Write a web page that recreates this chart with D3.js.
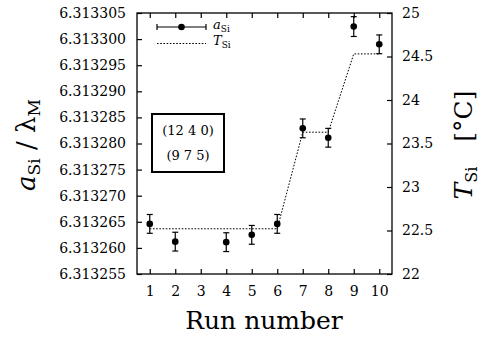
<!DOCTYPE html>
<html>
<head>
<meta charset="utf-8">
<script src="https://cdn.jsdelivr.net/npm/d3@7"></script>
<style>
  body { margin: 0; background: #fff; }
  text { font-family: "DejaVu Serif", serif; fill: #000; }
</style>
</head>
<body>
<svg id="chart" width="482" height="338"></svg>
<script>
// measured lattice parameter per run (run 3 has no point)
let runs = [1, 2, 4, 5, 6, 7, 8, 9, 10];
let aSi = [6.3132646, 6.3132612, 6.3132611, 6.3132625, 6.3132646, 6.3132829, 6.3132811, 6.3133024, 6.3132990];
let aErr = [0.0000018, 0.0000018, 0.0000018, 0.0000018, 0.0000018, 0.0000018, 0.0000018, 0.0000019, 0.0000018];

// silicon temperature per run
let tRuns = [1, 2, 3, 4, 5, 6, 7, 8, 9, 10];
let tSi = [22.52, 22.52, 22.52, 22.52, 22.52, 22.52, 23.63, 23.63, 24.53, 24.53];

let xTicks = [1, 2, 3, 4, 5, 6, 7, 8, 9, 10];
let aTicks = [6.313255, 6.313260, 6.313265, 6.313270, 6.313275, 6.313280, 6.313285, 6.313290, 6.313295, 6.313300, 6.313305];
let tTicks = [22, 22.5, 23, 23.5, 24, 24.5, 25];

let plotL = 137, plotR = 392, plotT = 13, plotB = 274;

let svg = d3.select('#chart');

let x = d3.scaleLinear().domain([0.5, 10.5]).range([plotL, plotR]);
let yA = d3.scaleLinear().domain([6.313255, 6.313305]).range([plotB, plotT]);
let yT = d3.scaleLinear().domain([22, 25]).range([plotB, plotT]);

function styleAxis(g) {
    g.select('.domain').remove();
    g.selectAll('.tick line').attr('stroke', '#000').attr('stroke-width', 1.2);
    g.selectAll('.tick text').attr('font-size', 14).attr('font-family', '"DejaVu Serif", serif');
}

svg.append('g')
    .attr('transform', 'translate(0,' + plotB + ')')
    .call(d3.axisBottom(x).tickValues(xTicks).tickSize(-5).tickPadding(12).tickFormat(d3.format('d')))
    .call(styleAxis);

svg.append('g')
    .attr('transform', 'translate(0,' + plotT + ')')
    .call(d3.axisTop(x).tickValues(xTicks).tickSize(-5).tickFormat(''))
    .call(styleAxis);

svg.append('g')
    .attr('transform', 'translate(' + plotL + ',0)')
    .call(d3.axisLeft(yA).tickValues(aTicks).tickSize(-5).tickPadding(11).tickFormat(d3.format('.6f')))
    .call(styleAxis);

svg.append('g')
    .attr('transform', 'translate(' + plotR + ',0)')
    .call(d3.axisRight(yT).tickValues(tTicks).tickSize(-5).tickPadding(10).tickFormat(d => d % 1 === 0 ? d : d.toFixed(1)))
    .call(styleAxis);

svg.append('rect')
    .attr('x', plotL).attr('y', plotT)
    .attr('width', plotR - plotL).attr('height', plotB - plotT)
    .attr('fill', 'none').attr('stroke', '#000').attr('stroke-width', 1.3);

// temperature (dotted)
let tLine = d3.line()
    .x((d, i) => x(tRuns[i]))
    .y(d => yT(d));
svg.append('path')
    .datum(tSi)
    .attr('d', tLine)
    .attr('fill', 'none')
    .attr('stroke', '#000')
    .attr('stroke-width', 1)
    .attr('stroke-dasharray', '1.6,1.6');

// error bars
let pts = svg.append('g').selectAll('g.pt')
    .data(runs)
    .enter()
    .append('g')
    .attr('class', 'pt');
pts.append('line')
    .attr('x1', d => x(d)).attr('x2', d => x(d))
    .attr('y1', (d, i) => yA(aSi[i] - aErr[i]))
    .attr('y2', (d, i) => yA(aSi[i] + aErr[i]))
    .attr('stroke', '#000').attr('stroke-width', 1.2);
pts.append('line')
    .attr('x1', d => x(d) - 3).attr('x2', d => x(d) + 3)
    .attr('y1', (d, i) => yA(aSi[i] - aErr[i]))
    .attr('y2', (d, i) => yA(aSi[i] - aErr[i]))
    .attr('stroke', '#000').attr('stroke-width', 1.2);
pts.append('line')
    .attr('x1', d => x(d) - 3).attr('x2', d => x(d) + 3)
    .attr('y1', (d, i) => yA(aSi[i] + aErr[i]))
    .attr('y2', (d, i) => yA(aSi[i] + aErr[i]))
    .attr('stroke', '#000').attr('stroke-width', 1.2);
pts.append('circle')
    .attr('cx', d => x(d))
    .attr('cy', (d, i) => yA(aSi[i]))
    .attr('r', 3.3)
    .attr('fill', '#000');

// legend
let lg = svg.append('g');
lg.append('line').attr('x1', 157).attr('x2', 206).attr('y1', 27).attr('y2', 27)
    .attr('stroke', '#000').attr('stroke-width', 1.2);
lg.append('line').attr('x1', 157).attr('x2', 157).attr('y1', 24).attr('y2', 30)
    .attr('stroke', '#000').attr('stroke-width', 1.2);
lg.append('line').attr('x1', 206).attr('x2', 206).attr('y1', 24).attr('y2', 30)
    .attr('stroke', '#000').attr('stroke-width', 1.2);
lg.append('circle').attr('cx', 181.5).attr('cy', 27).attr('r', 3.3).attr('fill', '#000');
lg.append('line').attr('x1', 157).attr('x2', 206).attr('y1', 43.5).attr('y2', 43.5)
    .attr('stroke', '#000').attr('stroke-width', 1).attr('stroke-dasharray', '1.6,1.6');

let t1 = lg.append('text').attr('x', 213).attr('y', 29).attr('font-size', 13);
t1.append('tspan').attr('font-style', 'italic').text('a');
t1.append('tspan').attr('font-size', 9).attr('dy', 2.5).text('Si');
let t2 = lg.append('text').attr('x', 213).attr('y', 45).attr('font-size', 13);
t2.append('tspan').attr('font-style', 'italic').text('T');
t2.append('tspan').attr('font-size', 9).attr('dy', 2.5).text('Si');

// reflection box
svg.append('rect')
    .attr('x', 152).attr('y', 114)
    .attr('width', 72).attr('height', 58)
    .attr('fill', '#fff').attr('stroke', '#000').attr('stroke-width', 2);
svg.append('text').attr('x', 188).attr('y', 135).attr('text-anchor', 'middle')
    .attr('font-size', 13).text('(12 4 0)');
svg.append('text').attr('x', 188).attr('y', 160).attr('text-anchor', 'middle')
    .attr('font-size', 13).text('(9 7 5)');

// axis titles
svg.append('text')
    .attr('x', 264).attr('y', 329)
    .attr('text-anchor', 'middle')
    .attr('font-size', 25)
    .text('Run number');

let yl = svg.append('text')
    .attr('transform', 'translate(35,145) rotate(-90)')
    .attr('text-anchor', 'middle')
    .attr('font-size', 26);
yl.append('tspan').attr('font-style', 'italic').text('a');
yl.append('tspan').attr('font-size', 17).attr('dy', 5).text('Si');
yl.append('tspan').attr('dy', -5).text(' / λ');
yl.append('tspan').attr('font-size', 17).attr('dy', 5).text('M');

let yr = svg.append('text')
    .attr('transform', 'translate(472,145) rotate(-90)')
    .attr('text-anchor', 'middle')
    .attr('font-size', 25);
yr.append('tspan').attr('font-style', 'italic').text('T');
yr.append('tspan').attr('font-size', 16).attr('dy', 5).text('Si');
yr.append('tspan').attr('dy', -5).text('\u2003[°C]');
</script>
</body>
</html>
